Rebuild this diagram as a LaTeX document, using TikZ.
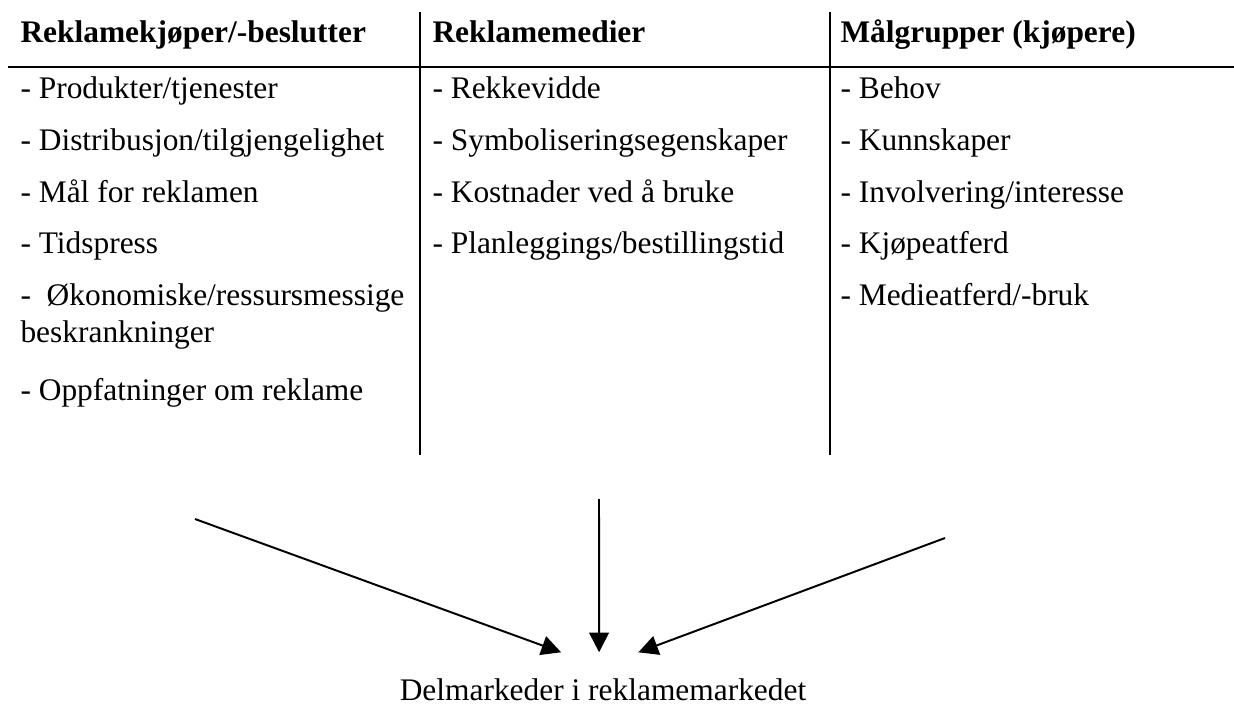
\documentclass[tikz,border=0pt]{standalone}
\usepackage{fontspec}
\setmainfont{Liberation Serif}
\usetikzlibrary{arrows.meta}
\tikzset{
  hd/.style = {anchor = base west, inner sep = 0pt, font = \fontsize{12pt}{14pt}\selectfont\bfseries},
  itm/.style = {anchor = base west, inner sep = 0pt, font = \fontsize{12pt}{14pt}\selectfont},
  rule/.style = {line width = 1pt},
  arr/.style = {-{Triangle[length = 7.5pt, width = 7.5pt]}, line width = 0.75pt}
}
\begin{document}
\begin{tikzpicture}[x = 0.382pt, y = -0.382pt, draw = black]
\useasboundingbox (0,0) rectangle (1234,706);
\draw[rule] (8,67) -- (1234,67);
\draw[rule] (420,12) -- (420,455);
\draw[rule] (830,12) -- (830,455);
\node[hd] (kjoper) at (20,42) {Reklamekjøper/-beslutter};
\node[hd] (medier) at (432,42) {Reklamemedier};
\node[hd] (maal) at (840,42) {Målgrupper (kjøpere)};
\node[itm] (k1) at (20,98) {- Produkter/tjenester};
\node[itm] (k2) at (20,150) {- Distribusjon/tilgjengelighet};
\node[itm] (k3) at (20,202) {- Mål for reklamen};
\node[itm] (k4) at (20,253) {- Tidspress};
\node[itm] (k5) at (20,305) {- \ Økonomiske/ressursmessige};
\node[itm] (k5b) at (20,342) {beskrankninger};
\node[itm] (k6) at (20,400) {- Oppfatninger om reklame};
\node[itm] (m1) at (432,98) {- Rekkevidde};
\node[itm] (m2) at (432,150) {- Symboliseringsegenskaper};
\node[itm] (m3) at (432,202) {- Kostnader ved å bruke};
\node[itm] (m4) at (432,253) {- Planleggings/bestillingstid};
\node[itm] (g1) at (840,98) {- Behov};
\node[itm] (g2) at (840,150) {- Kunnskaper};
\node[itm] (g3) at (840,202) {- Involvering/interesse};
\node[itm] (g4) at (840,253) {- Kjøpeatferd};
\node[itm] (g5) at (840,305) {- Medieatferd/-bruk};
\node[itm, anchor = base, inner ysep = 9.7pt] (delm) at (603,700) {Delmarkeder i reklamemarkedet};
\coordinate (fraK) at (195,519);
\coordinate (fraM) at (599,499);
\coordinate (fraG) at (945,538);
\draw[arr] (fraK) -- ([xshift = -16pt]delm.north);
\draw[arr] (fraM) -- ([xshift = -1.5pt]delm.north);
\draw[arr] (fraG) -- ([xshift = 13.5pt]delm.north);
\end{tikzpicture}
\end{document}
